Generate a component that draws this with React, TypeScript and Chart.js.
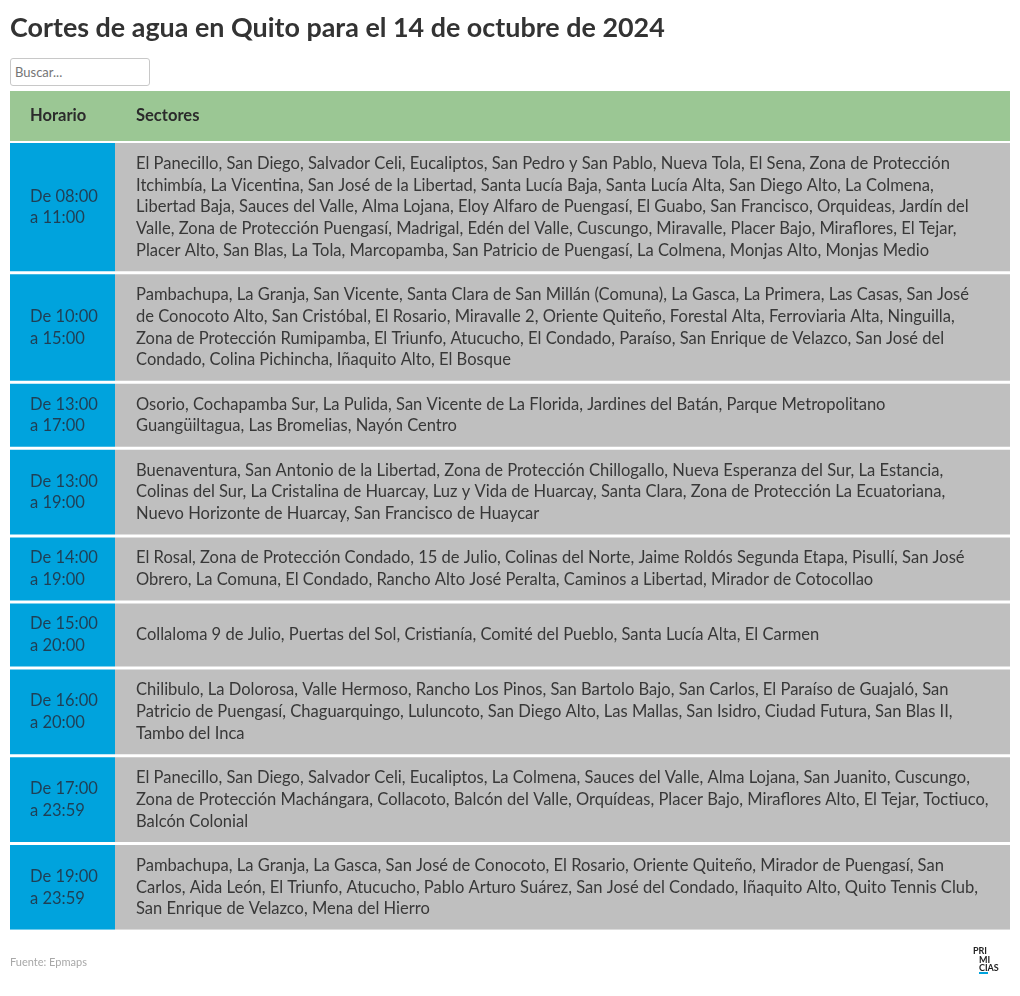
import React, { useEffect, useRef } from "react";
import { Chart, registerables } from "chart.js";

Chart.register(...registerables);

const titulo = "Cortes de agua en Quito para el 14 de octubre de 2024";
const buscar = "Buscar...";
const fuente = "Fuente: Epmaps";
const columnas = ["Horario", "Sectores"];
const horaInicio = ["08:00", "10:00", "13:00", "13:00", "14:00", "15:00", "16:00", "17:00", "19:00"];
const horaFin = ["11:00", "15:00", "17:00", "19:00", "19:00", "20:00", "20:00", "23:59", "23:59"];
const sectores: string[][] = [
  [
    "El Panecillo, San Diego, Salvador Celi, Eucaliptos, San Pedro y San Pablo, Nueva Tola, El Sena, Zona de Protección",
    "Itchimbía, La Vicentina, San José de la Libertad, Santa Lucía Baja, Santa Lucía Alta, San Diego Alto, La Colmena,",
    "Libertad Baja, Sauces del Valle, Alma Lojana, Eloy Alfaro de Puengasí, El Guabo, San Francisco, Orquideas, Jardín del",
    "Valle, Zona de Protección Puengasí, Madrigal, Edén del Valle, Cuscungo, Miravalle, Placer Bajo, Miraflores, El Tejar,",
    "Placer Alto, San Blas, La Tola, Marcopamba, San Patricio de Puengasí, La Colmena, Monjas Alto, Monjas Medio",
  ],
  [
    "Pambachupa, La Granja, San Vicente, Santa Clara de San Millán (Comuna), La Gasca, La Primera, Las Casas, San José",
    "de Conocoto Alto, San Cristóbal, El Rosario, Miravalle 2, Oriente Quiteño, Forestal Alta, Ferroviaria Alta, Ninguilla,",
    "Zona de Protección Rumipamba, El Triunfo, Atucucho, El Condado, Paraíso, San Enrique de Velazco, San José del",
    "Condado, Colina Pichincha, Iñaquito Alto, El Bosque",
  ],
  [
    "Osorio, Cochapamba Sur, La Pulida, San Vicente de La Florida, Jardines del Batán, Parque Metropolitano",
    "Guangüiltagua, Las Bromelias, Nayón Centro",
  ],
  [
    "Buenaventura, San Antonio de la Libertad, Zona de Protección Chillogallo, Nueva Esperanza del Sur, La Estancia,",
    "Colinas del Sur, La Cristalina de Huarcay, Luz y Vida de Huarcay, Santa Clara, Zona de Protección La Ecuatoriana,",
    "Nuevo Horizonte de Huarcay, San Francisco de Huaycar",
  ],
  [
    "El Rosal, Zona de Protección Condado, 15 de Julio, Colinas del Norte, Jaime Roldós Segunda Etapa, Pisullí, San José",
    "Obrero, La Comuna, El Condado, Rancho Alto José Peralta, Caminos a Libertad, Mirador de Cotocollao",
  ],
  ["Collaloma 9 de Julio, Puertas del Sol, Cristianía, Comité del Pueblo, Santa Lucía Alta, El Carmen"],
  [
    "Chilibulo, La Dolorosa, Valle Hermoso, Rancho Los Pinos, San Bartolo Bajo, San Carlos, El Paraíso de Guajaló, San",
    "Patricio de Puengasí, Chaguarquingo, Luluncoto, San Diego Alto, Las Mallas, San Isidro, Ciudad Futura, San Blas II,",
    "Tambo del Inca",
  ],
  [
    "El Panecillo, San Diego, Salvador Celi, Eucaliptos, La Colmena, Sauces del Valle, Alma Lojana, San Juanito, Cuscungo,",
    "Zona de Protección Machángara, Collacoto, Balcón del Valle, Orquídeas, Placer Bajo, Miraflores Alto, El Tejar, Toctiuco,",
    "Balcón Colonial",
  ],
  [
    "Pambachupa, La Granja, La Gasca, San José de Conocoto, El Rosario, Oriente Quiteño, Mirador de Puengasí, San",
    "Carlos, Aida León, El Triunfo, Atucucho, Pablo Arturo Suárez, San José del Condado, Iñaquito Alto, Quito Tennis Club,",
    "San Enrique de Velazco, Mena del Hierro",
  ],
];

const W = 1020;
const H = 996;
const TABLE_TOP = 91;
const TABLE_SIDE = 10;
const TABLE_W = 1000;
const COL1 = 105;
const HEADER_H = 50;
const HEADER_GAP = 2;
const ROW_GAP = 3;
const LINE_H = 21.75;
const ROW_PAD = 19.5;
const FONT = 'Lato, "Noto Sans", sans-serif';

const GREEN = "#9bc794";
const BLUE = "#00a3dd";
const GREY = "#bfbfbf";

function layoutRows() {
  const rows: { start: number; h: number; center: number; n: number }[] = [];
  let y = HEADER_H + HEADER_GAP;
  sectores.forEach((lines, i) => {
    const n = Math.max(2, lines.length);
    const h = n * LINE_H + ROW_PAD;
    rows.push({ start: y, h, center: y + h / 2, n });
    y += h + (i < sectores.length - 1 ? ROW_GAP : 0);
  });
  return { rows, total: y };
}

function fit(ctx: CanvasRenderingContext2D, texts: string[], weight: string, base: number, target: number) {
  ctx.font = `${weight} ${base}px ${FONT}`;
  const w = Math.max(...texts.map((t) => ctx.measureText(t).width));
  return (base * target) / w;
}

export default function App() {
  const ref = useRef<HTMLCanvasElement>(null);

  useEffect(() => {
    const canvas = ref.current!;
    const mctx = canvas.getContext("2d")!;
    const bodySize = fit(mctx, sectores.flat(), "normal", 17, 853);
    const titleSize = fit(mctx, [titulo], "bold", 28, 655);
    const { rows, total } = layoutRows();

    const datasets: any[] = [
      {
        label: "encabezado",
        data: [{ y: HEADER_H / 2, x: [0, TABLE_W] }],
        backgroundColor: [GREEN],
        barThickness: HEADER_H,
        stack: "tabla",
      },
    ];
    rows.forEach((r, i) => {
      datasets.push({
        label: `${horaInicio[i]}-${horaFin[i]}`,
        data: [
          { y: r.center, x: [0, COL1] },
          { y: r.center, x: [COL1, TABLE_W] },
        ],
        backgroundColor: [BLUE, GREY],
        barThickness: r.h,
        stack: "tabla",
      });
    });

    const plugin = {
      id: "tablaCortes",
      beforeDraw(chart: any) {
        const ctx = chart.ctx as CanvasRenderingContext2D;
        ctx.save();
        ctx.fillStyle = "#fff";
        ctx.fillRect(0, 0, W, H);
        ctx.fillStyle = "#333";
        ctx.textBaseline = "alphabetic";
        ctx.font = `bold ${titleSize}px ${FONT}`;
        ctx.fillText(titulo, 10, 37);
        // footer
        ctx.fillStyle = "#a8a8a8";
        ctx.textBaseline = "middle";
        ctx.font = `11px ${FONT}`;
        ctx.fillText(fuente, 10, 962);
        // logo
        ctx.fillStyle = "#222";
        ctx.font = `bold 9px ${FONT}`;
        ctx.fillText("PRI", 973, 951);
        ctx.fillText("MI", 979, 960);
        ctx.fillText("CIAS", 979, 968);
        ctx.fillStyle = BLUE;
        ctx.fillRect(979, 972, 9, 2);
        ctx.restore();
      },
      afterDatasetsDraw(chart: any) {
        const ctx = chart.ctx as CanvasRenderingContext2D;
        ctx.save();
        ctx.textBaseline = "middle";
        const head = chart.getDatasetMeta(0).data[0];
        const left = Math.min(head.x, head.base);
        ctx.fillStyle = "#2b2b2b";
        ctx.font = `bold ${bodySize}px ${FONT}`;
        ctx.fillText(columnas[0], left + 20, head.y);
        ctx.fillText(columnas[1], chart.scales.x.getPixelForValue(COL1) + 21, head.y);
        rows.forEach((r, i) => {
          const meta = chart.getDatasetMeta(i + 1);
          const a = meta.data[0];
          const b = meta.data[1];
          ctx.font = `${bodySize}px ${FONT}`;
          const hLines = [`De ${horaInicio[i]}`, `a ${horaFin[i]}`];
          ctx.fillStyle = "#1f3f55";
          hLines.forEach((t, k) => {
            ctx.fillText(t, Math.min(a.x, a.base) + 20, a.y + (k - (hLines.length - 1) / 2) * LINE_H);
          });
          ctx.fillStyle = "#383838";
          const lines = sectores[i];
          lines.forEach((t, k) => {
            ctx.fillText(t, Math.min(b.x, b.base) + 21, b.y + (k - (lines.length - 1) / 2) * LINE_H);
          });
        });
        ctx.restore();
      },
    };

    const chart = new Chart(canvas, {
      type: "bar",
      data: { labels: [], datasets },
      options: {
        indexAxis: "y",
        animation: false,
        responsive: false,
        events: [],
        layout: {
          padding: { left: TABLE_SIDE, right: TABLE_SIDE, top: TABLE_TOP, bottom: H - TABLE_TOP - total },
        },
        plugins: { legend: { display: false }, tooltip: { enabled: false }, title: { display: false } },
        scales: {
          x: { type: "linear", min: 0, max: TABLE_W, display: false, stacked: false, offset: false, bounds: "data" },
          y: { type: "linear", min: 0, max: total, reverse: true, display: false, offset: false, bounds: "data" },
        },
        datasets: { bar: { borderWidth: 0, inflateAmount: 0 } },
      } as any,
      plugins: [plugin],
    });
    return () => chart.destroy();
  }, []);

  return (
    <div style={{ position: "absolute", left: 0, top: 0, width: W, height: H }}>
      <canvas ref={ref} width={W} height={H} style={{ display: "block", width: W, height: H }} />
      <input
        placeholder={buscar}
        style={{
          position: "absolute",
          left: 10,
          top: 58,
          width: 140,
          height: 28,
          boxSizing: "border-box",
          border: "1px solid #c8c8c8",
          borderRadius: 3,
          padding: "0 4px",
          font: `13px ${FONT}`,
          outline: "none",
        }}
      />
    </div>
  );
}
